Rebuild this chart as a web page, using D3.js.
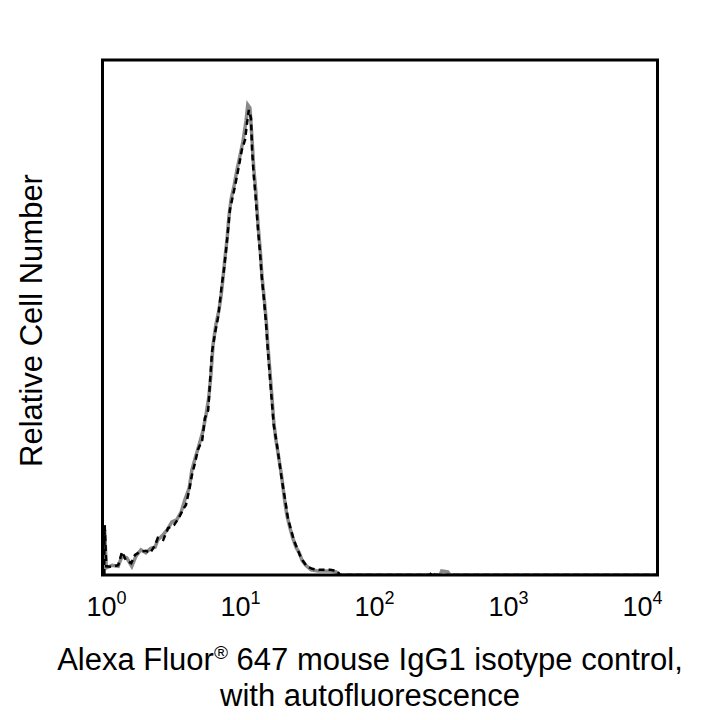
<!DOCTYPE html>
<html>
<head>
<meta charset="utf-8">
<script src="https://cdn.jsdelivr.net/npm/d3@7"></script>
<style>
  body { margin: 0; background: #fff; }
  text { font-family: "Liberation Sans", Arial, sans-serif; fill: #000; }
</style>
</head>
<body>
<script>
// channel (0-1023, 256 per decade) and relative count
const sampleChannel = [3, 4, 7, 18, 29, 36, 43, 53, 60, 69, 80, 88, 97, 102, 112, 121, 132, 141, 149, 154, 160, 165, 171, 176, 184, 189, 195, 198, 202, 208, 213, 217, 220, 224, 228, 232, 235, 241, 246, 252, 257, 263, 267, 270, 274, 276, 279, 283, 287, 291, 294, 298, 302, 305, 309, 313, 316, 322, 327, 331, 337, 342, 348, 353, 359, 364, 370, 377, 387, 401, 420, 433, 438, 604, 608, 613, 1023]
const sampleCount = [0, 9.7, 1.7, 1.6, 1.9, 4.5, 2.9, 2.3, 3.9, 4.5, 4.7, 4.3, 5.8, 7.2, 6.8, 9.1, 9.7, 11.1, 12.8, 13.6, 16.5, 19.4, 21.9, 24.3, 26.2, 30.5, 32.0, 36.9, 43.3, 47.2, 49.9, 53.4, 56.3, 59.2, 63.1, 67.4, 70.9, 73.8, 76.3, 79.6, 82.5, 84.5, 88.0, 90.3, 88.7, 82.5, 77.7, 72.8, 67.0, 62.1, 57.7, 53.4, 48.5, 43.7, 38.3, 33.0, 29.1, 25.2, 21.4, 18.4, 14.6, 11.1, 8.7, 6.8, 5.2, 3.9, 2.7, 1.7, 1.2, 1.0, 1.0, 0.8, 0, 0, 0.6, 0, 0]

const isoChannel = [3, 4, 7, 18, 29, 36, 45, 54, 62, 71, 80, 89, 97, 102, 110, 119, 128, 137, 145, 152, 160, 165, 171, 178, 185, 191, 196, 200, 204, 209, 215, 219, 222, 226, 230, 233, 237, 243, 248, 254, 259, 265, 268, 272, 276, 279, 283, 287, 291, 294, 298, 302, 305, 309, 313, 316, 320, 326, 331, 335, 340, 346, 351, 357, 363, 368, 375, 385, 398, 420, 431, 438, 623, 626, 637, 641, 1023]
const isoCount = [0, 8.7, 1.4, 1.9, 1.7, 3.7, 3.3, 1.7, 3.7, 4.9, 4.3, 5.2, 5.4, 6.8, 7.6, 8.7, 10.3, 10.7, 12.2, 14.6, 16.9, 20.4, 22.7, 25.2, 27.8, 31.1, 34.4, 38.8, 44.7, 48.5, 51.5, 54.4, 57.3, 61.6, 65.4, 69.3, 72.8, 75.7, 78.6, 81.6, 84.1, 88.3, 91.3, 90.7, 84.5, 79.0, 74.4, 68.0, 63.1, 58.3, 54.0, 49.5, 44.7, 39.4, 34.0, 29.7, 26.2, 22.3, 18.8, 15.3, 11.7, 9.1, 7.2, 5.4, 4.3, 2.9, 1.9, 1.0, 0.8, 0.8, 0.6, 0, 0, 0.8, 0.6, 0, 0]

const tickValues = [1, 10, 100, 1000, 10000]

const width = 720
const height = 720
const margin = { top: 60, right: 62.5, bottom: 145, left: 102.5 }
const plotW = width - margin.left - margin.right
const plotH = height - margin.top - margin.bottom

const toSeries = (ch, ct) => ch.map((c, i) => ({ x: Math.pow(10, c / 256), y: ct[i] }))
const sample = toSeries(sampleChannel, sampleCount)
const iso = toSeries(isoChannel, isoCount)

const svg = d3.select("body").append("svg")
  .attr("width", width)
  .attr("height", height)

const x = d3.scaleLog().domain([1, 10000]).range([margin.left, margin.left + plotW])
const y = d3.scaleLinear().domain([0, 100]).range([margin.top + plotH, margin.top])
// tick labels sit slightly inside the frame in the original
const xLabel = d3.scaleLog().domain([1, 10000]).range([margin.left + 4, margin.left + plotW - 15])

svg.append("clipPath").attr("id", "clip")
  .append("rect")
  .attr("x", margin.left).attr("y", margin.top)
  .attr("width", plotW).attr("height", plotH)

const line = d3.line().x(d => x(d.x)).y(d => y(d.y))

const g = svg.append("g").attr("clip-path", "url(#clip)")

g.append("path")
  .datum(iso)
  .attr("d", line)
  .attr("fill", "none")
  .attr("stroke", "#8a8a8a")
  .attr("stroke-width", 3.5)

g.append("path")
  .datum(sample)
  .attr("d", line)
  .attr("fill", "none")
  .attr("stroke", "#000")
  .attr("stroke-width", 2.5)
  .attr("stroke-dasharray", "6,4")

// frame
svg.append("rect")
  .attr("x", margin.left).attr("y", margin.top)
  .attr("width", plotW).attr("height", plotH)
  .attr("fill", "none")
  .attr("stroke", "#000")
  .attr("stroke-width", 3)

// tick labels 10^n
const tl = svg.append("g").selectAll("text")
  .data(tickValues)
  .enter().append("text")
  .attr("x", d => xLabel(d))
  .attr("y", 616)
  .attr("text-anchor", "middle")
  .style("font-size", "27px")
tl.append("tspan").text("10")
tl.append("tspan")
  .attr("dy", -12)
  .style("font-size", "18px")
  .text(d => Math.round(Math.log10(d)))

// y title
svg.append("text")
  .attr("transform", `translate(42, ${margin.top + plotH / 2 + 3}) rotate(-90)`)
  .attr("text-anchor", "middle")
  .style("font-size", "31px")
  .text("Relative Cell Number")

// x title
const xt = svg.append("text")
  .attr("x", 370)
  .attr("y", 670)
  .attr("text-anchor", "middle")
  .style("font-size", "31px")
xt.append("tspan").text("Alexa Fluor")
xt.append("tspan").attr("dy", -11).style("font-size", "19px").text("®")
xt.append("tspan").attr("dy", 11).text(" 647 mouse IgG1 isotype control,")

svg.append("text")
  .attr("x", 370)
  .attr("y", 706)
  .attr("text-anchor", "middle")
  .style("font-size", "31px")
  .text("with autofluorescence")
</script>
</body>
</html>
